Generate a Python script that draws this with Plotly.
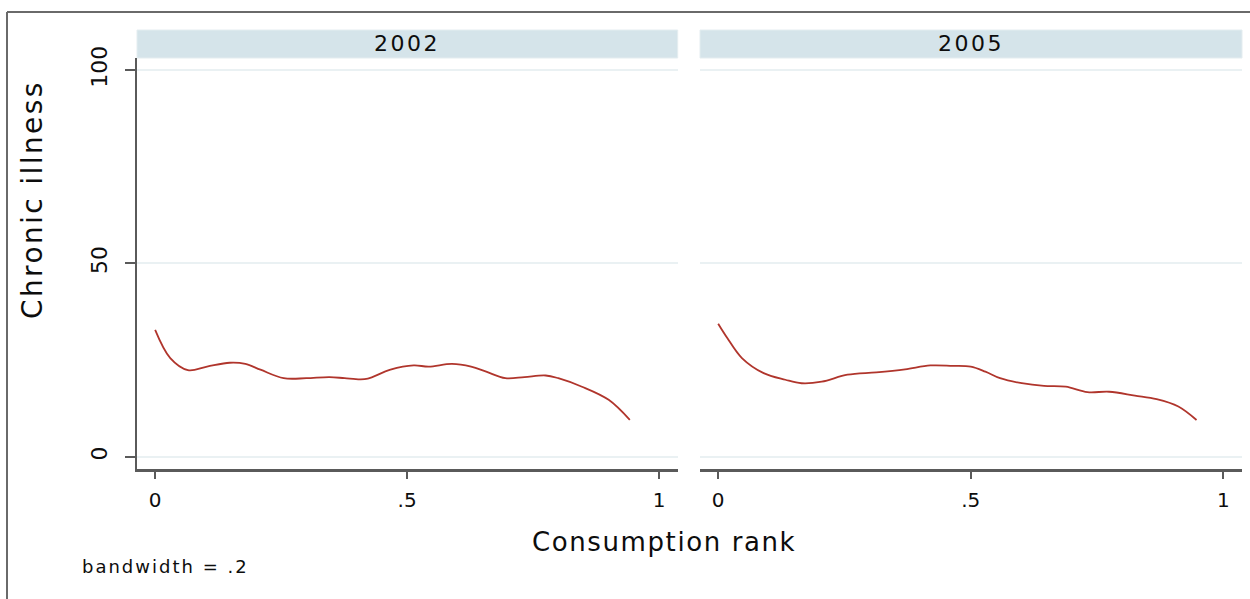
import plotly.graph_objects as go

# ---- data: smoothed chronic-illness rate by consumption rank ----
panel_years = ["2002", "2005"]

rank_2002 = [0.0, 0.03, 0.065, 0.103, 0.148, 0.179, 0.209, 0.255, 0.30, 0.346,
             0.376, 0.407, 0.422, 0.467, 0.513, 0.543, 0.589, 0.627, 0.657,
             0.695, 0.733, 0.775, 0.80, 0.847, 0.90, 0.942]
illness_2002 = [32.8, 25.5, 22.4, 23.3, 24.3, 24.0, 22.5, 20.3, 20.3, 20.6,
                20.3, 20.0, 20.2, 22.5, 23.6, 23.3, 24.0, 23.3, 22.0,
                20.3, 20.6, 21.0, 20.3, 18.1, 14.7, 9.5]

rank_2005 = [0.0, 0.018, 0.047, 0.09, 0.133, 0.165, 0.205, 0.256, 0.313, 0.37,
             0.42, 0.464, 0.50, 0.529, 0.558, 0.601, 0.645, 0.688, 0.731,
             0.774, 0.825, 0.868, 0.911, 0.947]
illness_2005 = [34.4, 30.7, 25.5, 21.6, 19.9, 19.0, 19.4, 21.2, 21.8, 22.6,
                23.6, 23.5, 23.3, 22.0, 20.3, 19.0, 18.3, 18.1, 16.7,
                16.8, 15.8, 14.9, 13.0, 9.5]

y_tick_values = [0, 50, 100]
y_tick_labels = ["0", "50", "100"]
x_tick_values = [0, 0.5, 1]
x_tick_labels = ["0", ".5", "1"]

# ---- styling ----
FONT = "DejaVu Sans"
TEXT = "#0D0D0D"
LINE_RED = "#B0352C"
AXIS_GREY = "#5A5A5A"
GRID = "#EAF1F3"
STRIP = "#D5E4EA"
FRAME = "#6A6A6A"

W, H = 1250, 599
ML, MR, MT, MB = 137, 8, 30, 130
PW, PH = W - ML - MR, H - MT - MB


def px_x(px):
    """pixel column -> paper x"""
    return (px - ML) / PW


def px_y(py):
    """pixel row -> paper y"""
    return (H - MB - py) / PH


def spaced(text, ls):
    return f'<span style="letter-spacing:{ls}px">{text}</span>'


plot_top = px_y(58)
dom1 = [0, px_x(677.7)]
dom2 = [px_x(700), 1]

fig = go.Figure()
line_style = dict(color=LINE_RED, width=1.8, shape="spline", smoothing=1.0)
fig.add_trace(go.Scatter(x=rank_2002, y=illness_2002, mode="lines", line=line_style,
                         xaxis="x", yaxis="y", showlegend=False, hoverinfo="skip"))
fig.add_trace(go.Scatter(x=rank_2005, y=illness_2005, mode="lines", line=line_style,
                         xaxis="x2", yaxis="y2", showlegend=False, hoverinfo="skip"))

x_common = dict(
    range=[-0.036, 1.037], tickmode="array", tickvals=x_tick_values,
    ticktext=x_tick_labels, ticks="outside", ticklen=7, tickwidth=1.5,
    tickcolor=AXIS_GREY, showline=True, linecolor=AXIS_GREY, linewidth=2.5,
    showgrid=False, zeroline=False, ticklabelstandoff=4,
    tickfont=dict(family=FONT, size=20, color=TEXT),
)
y_range = [-3.18, 103.1]

fig.update_layout(
    width=W, height=H,
    margin=dict(l=ML, r=MR, t=MT, b=MB, pad=0),
    paper_bgcolor="white", plot_bgcolor="white",
    xaxis=dict(domain=dom1, anchor="y", **x_common),
    xaxis2=dict(domain=dom2, anchor="y2", **x_common),
    yaxis=dict(
        domain=[0, plot_top], range=y_range, anchor="x",
        tickmode="array", tickvals=y_tick_values, ticktext=y_tick_labels,
        tickangle=-90, ticks="outside", ticklen=10, tickwidth=1.5,
        tickcolor=AXIS_GREY, showline=True, linecolor=AXIS_GREY, linewidth=2,
        showgrid=True, gridcolor=GRID, gridwidth=2, zeroline=False,
        ticklabelstandoff=9,
        tickfont=dict(family=FONT, size=22, color=TEXT),
    ),
    yaxis2=dict(
        domain=[0, plot_top], range=y_range, anchor="x2", matches="y",
        tickmode="array", tickvals=y_tick_values, showticklabels=False,
        ticks="", showline=False, showgrid=True, gridcolor=GRID, gridwidth=2,
        zeroline=False,
    ),
)

shapes = []
# facet header strips
for dom in (dom1, dom2):
    shapes.append(dict(type="rect", xref="paper", yref="paper",
                       x0=dom[0], x1=dom[1], y0=plot_top, y1=1,
                       fillcolor=STRIP, line=dict(color="#E4EDF0", width=1),
                       layer="below"))
# outer frame (top and left edges)
shapes.append(dict(type="line", xref="paper", yref="paper",
                   x0=px_x(7), x1=px_x(1250), y0=px_y(12), y1=px_y(12),
                   line=dict(color=FRAME, width=2)))
shapes.append(dict(type="line", xref="paper", yref="paper",
                   x0=px_x(7), x1=px_x(7), y0=px_y(12), y1=px_y(599),
                   line=dict(color=FRAME, width=2)))
fig.update_layout(shapes=shapes)

annotations = []
for dom, year in zip((dom1, dom2), panel_years):
    annotations.append(dict(
        xref="paper", yref="paper", x=(dom[0] + dom[1]) / 2, y=px_y(43.5),
        text=spaced(year, 2.5), showarrow=False, xanchor="center", yanchor="middle",
        font=dict(family=FONT, size=22, color=TEXT)))
annotations.append(dict(
    xref="paper", yref="paper", x=px_x(33), y=px_y(200),
    text=spaced("Chronic illness", 2.4), textangle=-90, showarrow=False,
    xanchor="center", yanchor="middle",
    font=dict(family=FONT, size=28, color=TEXT)))
annotations.append(dict(
    xref="paper", yref="paper", x=px_x(664), y=px_y(542),
    text=spaced("Consumption rank", 1.6), showarrow=False,
    xanchor="center", yanchor="middle",
    font=dict(family=FONT, size=26, color=TEXT)))
annotations.append(dict(
    xref="paper", yref="paper", x=px_x(80), y=px_y(566),
    text=spaced("bandwidth = .2", 2.0), showarrow=False,
    xanchor="left", yanchor="middle",
    font=dict(family=FONT, size=18, color=TEXT)))
fig.update_layout(annotations=annotations)

fig.write_html("out.html")
